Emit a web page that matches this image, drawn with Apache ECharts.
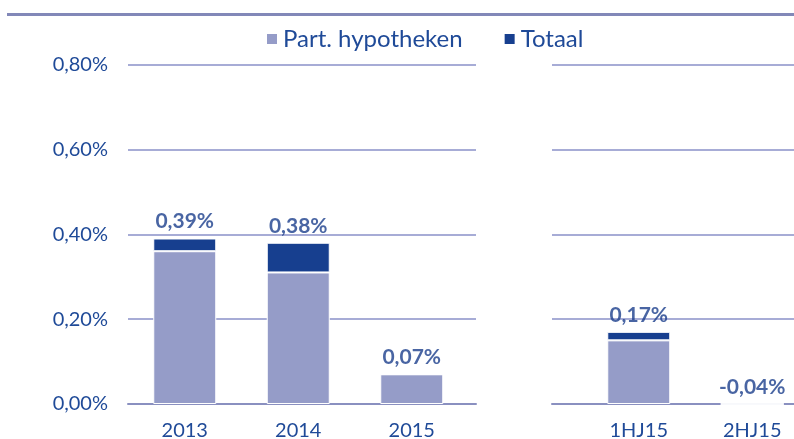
<!DOCTYPE html>
<html>
<head>
<meta charset="utf-8">
<script src="https://cdn.jsdelivr.net/npm/echarts@6/dist/echarts.min.js"></script>
<style>
  html, body { margin: 0; padding: 0; background: #fff; }
  #chart { width: 794px; height: 439px; }
</style>
</head>
<body>
<div id="chart"></div>
<script>
// categorieen (lege kolom tussen jaren en halfjaren)
var categories = ['2013', '2014', '2015', '', '1HJ15', '2HJ15'];
// waarden in %
var partHypotheken = [0.36, 0.31, 0.07, '-', 0.15, 0];
var totaal = [0.39, 0.38, 0.07, '-', 0.17, -0.04];
var yTicks = [0, 0.2, 0.4, 0.6, 0.8];

var textBlue = '#1f4a98';
var labelBlue = '#1c3f8c';
var gridColor = '#a7acd6';
var baseColor = '#8a90c0';

function pct(v) {
    return v.toFixed(2).replace('.', ',') + '%';
}

// bovenste deel van de stapel = totaal - part. hypotheken
var rest = totaal.map(function (t, i) {
    if (t === '-') return '-';
    return Math.max(0, +(t - partHypotheken[i]).toFixed(2));
});
var labelPos = totaal.map(function (t) {
    return t === '-' ? '-' : Math.max(0, t);
});

var myChart = echarts.init(document.getElementById('chart'));

var option = {
    animation: false,
    textStyle: { fontFamily: 'Lato' },
    graphic: [{
        type: 'line',
        shape: { x1: 7, y1: 14.5, x2: 794, y2: 14.5 },
        style: { stroke: '#8288b8', lineWidth: 3 }
    }],
    legend: {
        data: ['Part. hypotheken', 'Totaal'],
        top: 27,
        left: 265,
        padding: 0,
        icon: 'rect',
        itemWidth: 12,
        itemHeight: 12,
        itemGap: 40,
        textStyle: { color: textBlue, fontSize: 24, fontFamily: 'Lato' }
    },
    grid: [
        { left: 128, top: 64.5, width: 681, height: 339.5, outerBoundsMode: 'none' },
        { left: 128, top: 64.5, width: 348, height: 339.5, outerBoundsMode: 'none' },
        { left: 552, top: 64.5, width: 242, height: 339.5, outerBoundsMode: 'none' }
    ],
    xAxis: [{
        gridIndex: 0,
        type: 'category',
        data: categories,
        axisLine: { show: false },
        axisTick: { show: false },
        axisLabel: { color: textBlue, fontSize: 20, margin: 17 }
    }, {
        gridIndex: 1,
        type: 'category',
        data: [''],
        axisTick: { show: false },
        axisLabel: { show: false },
        axisLine: { lineStyle: { color: baseColor, width: 2 } }
    }, {
        gridIndex: 2,
        type: 'category',
        data: [''],
        axisTick: { show: false },
        axisLabel: { show: false },
        axisLine: { lineStyle: { color: baseColor, width: 2 } }
    }],
    yAxis: [{
        gridIndex: 0,
        min: yTicks[0],
        max: yTicks[yTicks.length - 1],
        interval: 0.2,
        axisLine: { show: false },
        axisTick: { show: false },
        splitLine: { show: false },
        axisLabel: {
            color: textBlue, fontSize: 20, margin: 20,
            formatter: function (v) { return pct(v); }
        }
    }, {
        gridIndex: 1,
        min: 0, max: 0.8, interval: 0.2,
        axisLine: { show: false },
        axisTick: { show: false },
        axisLabel: { show: false },
        splitLine: { lineStyle: { color: gridColor, width: 2 } }
    }, {
        gridIndex: 2,
        min: 0, max: 0.8, interval: 0.2,
        axisLine: { show: false },
        axisTick: { show: false },
        axisLabel: { show: false },
        splitLine: { lineStyle: { color: gridColor, width: 2 } }
    }],
    series: [{
        name: 'Part. hypotheken',
        type: 'bar',
        stack: 'a',
        barWidth: 63,
        itemStyle: { color: '#959cc8', borderColor: '#fff', borderWidth: 1 },
        data: partHypotheken,
        z: 3
    }, {
        name: 'Totaal',
        type: 'bar',
        stack: 'a',
        barWidth: 63,
        itemStyle: { color: '#173f8f', borderColor: '#fff', borderWidth: 1 },
        data: rest,
        z: 3
    }, {
        name: 'labels',
        type: 'scatter',
        symbolSize: 1,
        itemStyle: { color: 'rgba(0,0,0,0)' },
        data: labelPos,
        z: 5,
        label: {
            show: true,
            position: 'top',
            distance: 6,
            color: labelBlue,
            fontSize: 21,
            fontWeight: 'bold',
            formatter: function (p) { return pct(totaal[p.dataIndex]); }
        }
    }]
};

myChart.setOption(option);
window.addEventListener('resize', function () {
    myChart.resize();
});
</script>
</body>
</html>
